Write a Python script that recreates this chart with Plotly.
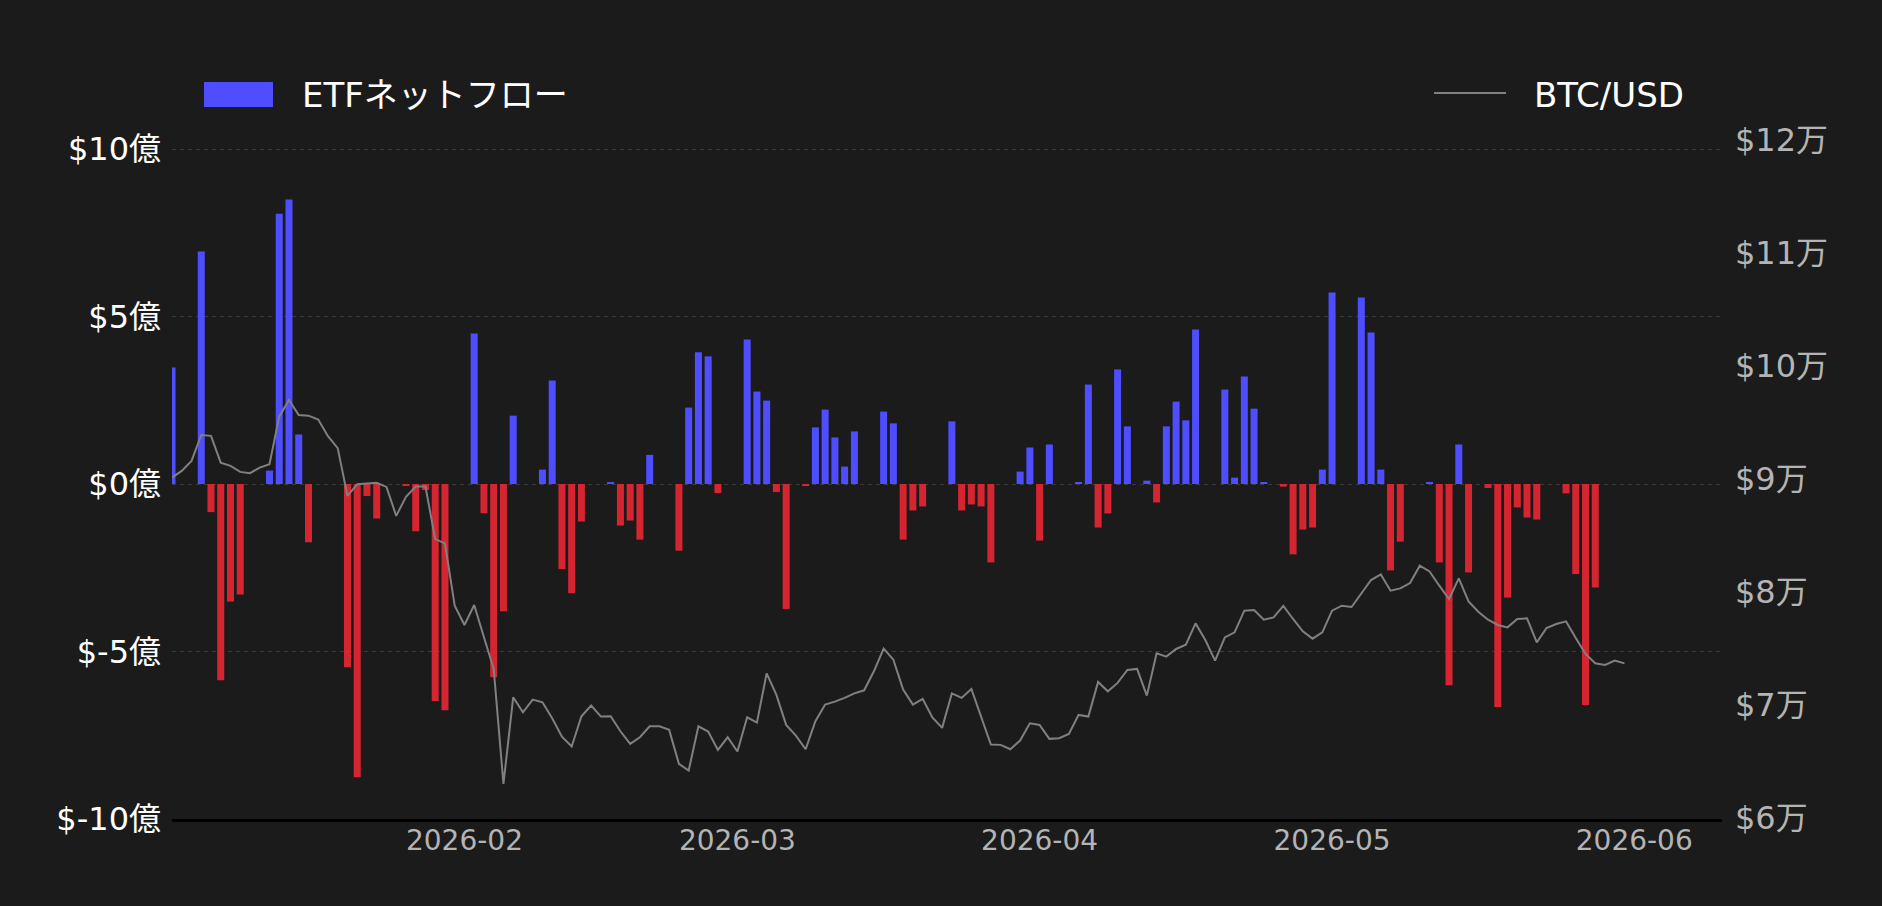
import pandas as pd
import plotly.graph_objects as go

# ---------------- data ----------------
flow_dates = [
    "2026-01-02", "2026-01-05", "2026-01-06", "2026-01-07", "2026-01-08", "2026-01-09",
    "2026-01-12", "2026-01-13", "2026-01-14", "2026-01-15", "2026-01-16",
    "2026-01-20", "2026-01-21", "2026-01-22", "2026-01-23",
    "2026-01-26", "2026-01-27", "2026-01-28", "2026-01-29", "2026-01-30",
    "2026-02-02", "2026-02-03", "2026-02-04", "2026-02-05", "2026-02-06",
    "2026-02-09", "2026-02-10", "2026-02-11", "2026-02-12", "2026-02-13",
    "2026-02-16", "2026-02-17", "2026-02-18", "2026-02-19", "2026-02-20",
    "2026-02-23", "2026-02-24", "2026-02-25", "2026-02-26", "2026-02-27",
    "2026-03-02", "2026-03-03", "2026-03-04", "2026-03-05", "2026-03-06",
    "2026-03-08", "2026-03-09", "2026-03-10", "2026-03-11", "2026-03-12", "2026-03-13",
    "2026-03-16", "2026-03-17", "2026-03-18", "2026-03-19", "2026-03-20",
    "2026-03-23", "2026-03-24", "2026-03-25", "2026-03-26", "2026-03-27",
    "2026-03-30", "2026-03-31", "2026-04-01", "2026-04-02",
    "2026-04-05", "2026-04-06", "2026-04-07", "2026-04-08", "2026-04-09", "2026-04-10",
    "2026-04-12", "2026-04-13", "2026-04-14", "2026-04-15", "2026-04-16", "2026-04-17",
    "2026-04-20", "2026-04-21", "2026-04-22", "2026-04-23", "2026-04-24",
    "2026-04-26", "2026-04-27", "2026-04-28", "2026-04-29", "2026-04-30", "2026-05-01",
    "2026-05-04", "2026-05-05", "2026-05-06", "2026-05-07", "2026-05-08",
    "2026-05-11", "2026-05-12", "2026-05-13", "2026-05-14", "2026-05-15",
    "2026-05-17", "2026-05-18", "2026-05-19", "2026-05-20", "2026-05-21", "2026-05-22",
    "2026-05-25", "2026-05-26", "2026-05-27", "2026-05-28",
]
# ETF net flow, in 億 USD
flow_values = [
    3.48, 6.94, -0.84, -5.86, -3.51, -3.30,
    0.40, 8.07, 8.49, 1.48, -1.74,
    -5.47, -8.75, -0.36, -1.03,
    -0.03, -1.41, -0.18, -6.48, -6.75,
    4.49, -0.87, -5.77, -3.80, 2.04,
    0.43, 3.09, -2.54, -3.26, -1.12,
    0.05, -1.24, -1.09, -1.66, 0.87,
    -1.99, 2.28, 3.93, 3.81, -0.27,
    4.31, 2.76, 2.49, -0.24, -3.73,
    -0.05, 1.69, 2.22, 1.39, 0.52, 1.57,
    2.16, 1.81, -1.66, -0.79, -0.67,
    1.87, -0.79, -0.61, -0.67, -2.34,
    0.37, 1.09, -1.69, 1.18,
    0.05, 2.97, -1.30, -0.88, 3.42, 1.72,
    0.10, -0.55, 1.72, 2.46, 1.90, 4.61,
    2.82, 0.19, 3.21, 2.25, 0.04,
    -0.08, -2.10, -1.36, -1.30, 0.43, 5.72,
    5.57, 4.52, 0.43, -2.58, -1.72,
    0.04, -2.34, -6.01, 1.18, -2.64,
    -0.12, -6.66, -3.39, -0.70, -1.00, -1.06,
    -0.28, -2.69, -6.60, -3.09,
]

btc_start = "2026-01-02"
btc_values = [
    # Jan 2 - Jan 31
    90130, 90720, 91600, 93900, 93820, 91450, 91160, 90630, 90520, 91010,
    91310, 95520, 97000, 95670, 95610, 95260, 93790, 92730, 88510, 89540,
    89600, 89660, 89300, 86740, 88420, 89330, 89330, 84680, 84300, 78790,
    # Feb
    77080, 78850, 75990, 73190, 63020, 70680, 69350, 70480, 70240, 68820,
    67200, 66330, 69000, 69950, 68975, 69000, 67675, 66560, 67145, 68117,
    68117, 67800, 64790, 64200, 68117, 67650, 66030, 67145,
    # Mar
    65880, 68913, 68444, 72803, 70893, 68240, 67295, 66083, 68560, 70036,
    70300, 70628, 71035, 71300, 72980, 74987, 74015, 71362, 70036, 70550,
    68900, 67975, 71035, 70628, 71424, 68913, 66499, 66472, 66083, 66853,
    68382,
    # Apr
    68240, 67003, 67056, 67445, 69125, 68975, 72043, 71212, 71954, 73104,
    73192, 70832, 74572, 74280, 74960, 75341, 77224, 75756, 73926, 75986,
    76429, 78347, 78406, 77550, 77755, 78780, 77613, 76517, 75872, 76429,
    # May
    78347, 78790, 78674, 79912, 81062, 81557, 80116, 80320, 80797, 82327,
    81823, 80558, 79382, 81203, 79170, 78259, 77550, 77083, 76871, 77613,
    77667, 75544, 76818, 77171, 77401, 75933, 74519, 73687, 73546, 73926,
    73687,
]
btc_dates = pd.date_range(btc_start, periods=len(btc_values), freq="D")

left_tickvals = [-10, -5, 0, 5, 10]
left_ticktext = ["$-10億", "$-5億", "$0億", "$5億", "$10億"]
right_tickvals = [60000, 70000, 80000, 90000, 100000, 110000, 120000]
right_ticktext = ["$6万", "$7万", "$8万", "$9万", "$10万", "$11万", "$12万"]

flow_name = "ETFネットフロー"
btc_name = "BTC/USD"

# ---------------- style ----------------
BG = "#1b1b1b"
BLUE = "#4e4dff"
RED = "#d42531"
GRAY = "#808080"
FONT = "DejaVu Sans, Noto Sans CJK JP, sans-serif"

W, H = 1882, 906
ML, MR, MT, MB = 172, 160, 130, 87
PW, PH = W - ML - MR, H - MT - MB


def px_x(p):
    return (p - ML) / PW


def px_y(p):
    return (H - MB - p) / PH


bar_colors = [BLUE if v >= 0 else RED for v in flow_values]

fig = go.Figure()
fig.add_trace(go.Bar(
    x=flow_dates, y=flow_values, name=flow_name,
    marker=dict(color=bar_colors, line=dict(width=0)),
    yaxis="y",
))
fig.add_trace(go.Scatter(
    x=btc_dates, y=btc_values, name=btc_name, mode="lines",
    line=dict(color=GRAY, width=2),
    yaxis="y2",
))

# left axis: 33.5 px per unit, 0 at 335 px above bottom
y_top = -10 + PH / 33.5
# right axis: 88.5 USD per px, 60000 at 1 px above bottom
y2_bottom = 60000 - 1 * 88.5
y2_top = y2_bottom + PH * 88.5

fig.update_layout(
    width=W, height=H,
    paper_bgcolor=BG, plot_bgcolor=BG,
    margin=dict(l=ML, r=MR, t=MT, b=MB, pad=0),
    showlegend=False,
    bargap=0.28,
    font=dict(family=FONT, color="#ffffff"),
    xaxis=dict(
        type="date",
        range=["2026-01-02", "2026-06-10"],
        tick0="2026-01-01", dtick="M1", tickformat="%Y-%m",
        showgrid=False, zeroline=False,
        showline=True, linecolor="#000000", linewidth=3,
        ticks="", ticklabelstandoff=-6,
        tickfont=dict(size=28, color="#b4b4b4", family=FONT),
    ),
    yaxis=dict(
        range=[-10, y_top],
        tickvals=left_tickvals, ticktext=left_ticktext,
        showgrid=True, gridcolor="#3a3a3a", gridwidth=1, griddash="4px,4px",
        zeroline=False, showline=False, ticks="",
        ticklabelstandoff=10,
        tickfont=dict(size=32, color="#ffffff", family=FONT),
    ),
    yaxis2=dict(
        range=[y2_bottom, y2_top],
        overlaying="y", side="right",
        tickvals=right_tickvals, ticktext=right_ticktext,
        showgrid=False, zeroline=False, showline=False, ticks="",
        ticklabelstandoff=12,
        tickfont=dict(size=32, color="#b4b4b4", family=FONT),
    ),
    shapes=[
        dict(type="rect", xref="paper", yref="paper",
             x0=px_x(204), x1=px_x(273), y0=px_y(107), y1=px_y(82),
             fillcolor=BLUE, line=dict(width=0)),
        dict(type="line", xref="paper", yref="paper",
             x0=px_x(1434), x1=px_x(1506), y0=px_y(93), y1=px_y(93),
             line=dict(color=GRAY, width=2)),
    ],
    annotations=[
        dict(text=flow_name, xref="paper", yref="paper",
             x=px_x(300), y=px_y(95), xanchor="left", yanchor="middle",
             showarrow=False, font=dict(size=34, color="#ffffff", family=FONT)),
        dict(text=btc_name, xref="paper", yref="paper",
             x=px_x(1532), y=px_y(95), xanchor="left", yanchor="middle",
             showarrow=False, font=dict(size=34, color="#ffffff", family=FONT)),
    ],
)

fig.write_html("out.html")
